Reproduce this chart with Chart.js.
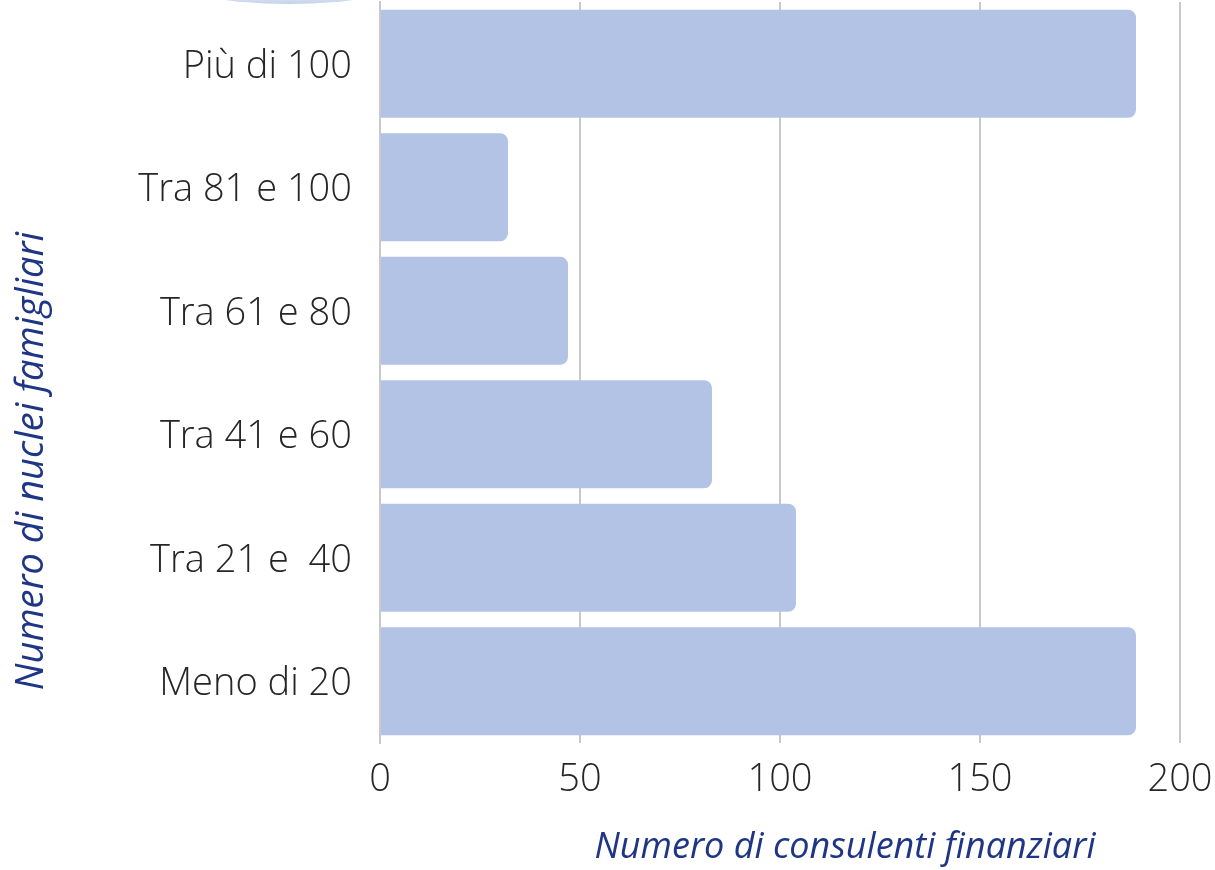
<!DOCTYPE html>
<html>
<head>
<meta charset="utf-8">
<script src="https://cdn.jsdelivr.net/npm/chart.js@4"></script>
<style>
  html, body { margin: 0; padding: 0; background: #fff; }
  #wrap { width: 1215px; height: 870px; position: relative; }
</style>
</head>
<body>
<div id="wrap"><canvas id="barchart"></canvas></div>
<script>
// data
const categories = ['Più di 100', 'Tra 81 e 100', 'Tra 61 e 80', 'Tra 41 e 60', 'Tra 21 e  40', 'Meno di 20'];
const consulenti = [189, 32, 47, 83, 104, 189];
const xTicks = [0, 50, 100, 150, 200];
const xTitle = 'Numero di consulenti finanziari';
const yTitle = 'Numero di nuclei famigliari';

const titleBlue = '#1f3585';

// little blue shape cut by the top edge
const topShape = {
  id: 'topShape',
  beforeDraw(chart) {
    const c = chart.ctx;
    c.save();
    const g = c.createLinearGradient(0, -6, 0, 4);
    g.addColorStop(0, '#e3eaf6');
    g.addColorStop(1, '#c3d3ea');
    c.fillStyle = g;
    c.beginPath();
    c.ellipse(289, -21, 118, 25, 0, 0, Math.PI * 2);
    c.fill();
    c.restore();
  }
};

// axis titles sit off-centre in the original, so draw them by hand
const axisTitles = {
  id: 'axisTitles',
  afterDraw(chart) {
    const c = chart.ctx;
    c.save();
    c.fillStyle = titleBlue;
    c.textAlign = 'center';
    c.textBaseline = 'middle';
    c.font = 'italic 36px "Open Sans"';
    c.fillText(xTitle, 845, 848);
    c.translate(32, 461);
    c.rotate(-Math.PI / 2);
    c.font = 'italic 38px "Open Sans"';
    c.fillText(yTitle, 0, 0);
    c.restore();
  }
};

document.addEventListener("DOMContentLoaded", function () {
  const ctx = document.getElementById('barchart');
  new Chart(ctx, {
    type: 'bar',
    data: {
      labels: categories,
      datasets: [{
        data: consulenti,
        backgroundColor: '#b2c3e5',
        borderWidth: 0,
        borderRadius: 8, // only the far end is rounded
        barPercentage: 1,
        categoryPercentage: 0.875
      }]
    },
    options: {
      indexAxis: 'y',
      responsive: true,
      maintainAspectRatio: false,
      animation: false,
      layout: { padding: { top: 2, right: 35, left: 0, bottom: 0 } },
      plugins: {
        legend: { display: false },
        tooltip: { enabled: false }
      },
      scales: {
        x: {
          min: 0,
          max: 200,
          afterBuildTicks(scale) {
            scale.ticks = xTicks.map(v => ({ value: v }));
          },
          afterFit(scale) {
            scale.height = 127;
            scale.paddingLeft = 0;
            scale.paddingRight = 0;
          },
          grid: { color: '#c9c9c9', lineWidth: 2, drawTicks: false },
          border: { display: false },
          ticks: {
            padding: 14,
            color: '#262626',
            font: { family: 'Open Sans', size: 38, weight: 300 }
          }
        },
        y: {
          afterFit(scale) {
            scale.width = 380;
            scale.paddingTop = 0;
            scale.paddingBottom = 0;
          },
          grid: { display: false, drawTicks: false },
          border: { display: true, color: '#c9c9c9', width: 2 },
          ticks: {
            padding: 28,
            labelOffset: 3,
            color: '#262626',
            font: { family: 'Open Sans', size: 38, weight: 300 }
          }
        }
      }
    },
    plugins: [topShape, axisTitles]
  });
});
</script>
</body>
</html>
